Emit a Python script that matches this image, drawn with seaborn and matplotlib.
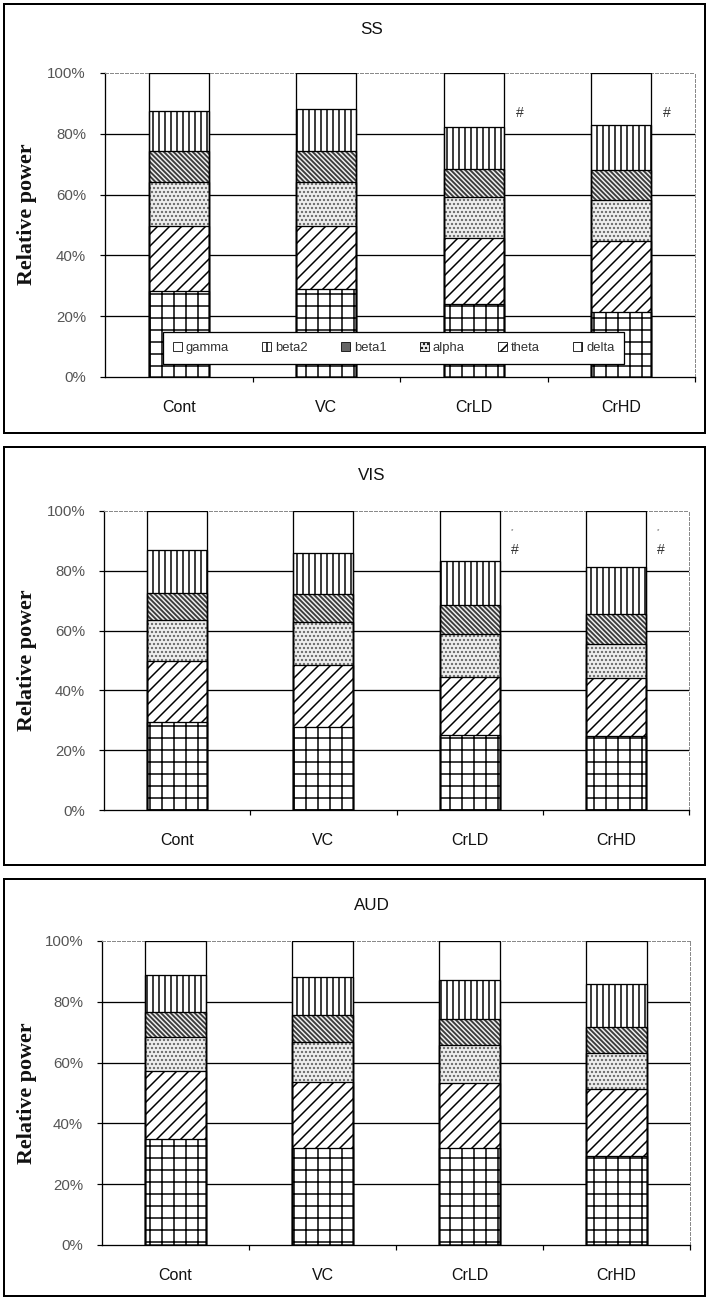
import matplotlib
matplotlib.use("Agg")
import matplotlib.pyplot as plt
from matplotlib.patches import Patch, Rectangle
import seaborn as sns

# Categories and frequency bands (top of stack first)
groups = ["Cont", "VC", "CrLD", "CrHD"]
bands = ["gamma", "beta2", "beta1", "alpha", "theta", "delta"]
y_ticks = [0, 20, 40, 60, 80, 100]
y_tick_labels = ["0%", "20%", "40%", "60%", "80%", "100%"]
regions = ["SS", "VIS", "AUD"]

# Relative power of each band (%), per group
ss_delta = [28.3, 28.8, 23.9, 21.5]
ss_theta = [21.4, 21.0, 21.9, 23.2]
ss_alpha = [14.3, 14.4, 13.3, 13.5]
ss_beta1 = [10.3, 10.1, 9.3, 9.9]
ss_beta2 = [13.3, 13.7, 13.9, 14.8]
ss_gamma = [12.4, 12.0, 17.7, 17.1]

vis_delta = [29.3, 27.8, 25.2, 24.7]
vis_theta = [20.5, 20.6, 19.4, 19.5]
vis_alpha = [13.6, 14.5, 14.4, 11.4]
vis_beta1 = [9.3, 9.2, 9.5, 9.9]
vis_beta2 = [14.4, 13.7, 14.8, 15.8]
vis_gamma = [12.9, 14.2, 16.7, 18.7]

aud_delta = [34.9, 31.8, 31.8, 29.3]
aud_theta = [22.3, 21.7, 21.5, 21.9]
aud_alpha = [11.2, 13.3, 12.5, 11.8]
aud_beta1 = [8.3, 8.9, 8.5, 8.8]
aud_beta2 = [12.2, 12.5, 12.9, 14.2]
aud_gamma = [11.1, 11.8, 12.8, 14.0]

# Significance marks: (region, group index, label)
marks = [("SS", 2, "#"), ("SS", 3, "#"), ("VIS", 2, "#"), ("VIS", 3, "#")]
faint_marks = [("VIS", 2, "*"), ("VIS", 3, "*")]

data = {
    "SS": dict(delta=ss_delta, theta=ss_theta, alpha=ss_alpha,
               beta1=ss_beta1, beta2=ss_beta2, gamma=ss_gamma),
    "VIS": dict(delta=vis_delta, theta=vis_theta, alpha=vis_alpha,
                beta1=vis_beta1, beta2=vis_beta2, gamma=vis_gamma),
    "AUD": dict(delta=aud_delta, theta=aud_theta, alpha=aud_alpha,
                beta1=aud_beta1, beta2=aud_beta2, gamma=aud_gamma),
}

# Fill pattern for each band: face colour, hatch, hatch colour
styles = {
    "gamma": ("white", "", "black"),
    "beta2": ("white", "||", "black"),
    "beta1": ("#3c3c3c", "\\\\\\\\\\", "#f0f0f0"),
    "alpha": ("#eeeeee", "...", "#606060"),
    "theta": ("white", "//", "black"),
    "delta": ("white", "+", "black"),
}

sns.set_theme(style="white")
SANS = ["Liberation Sans", "DejaVu Sans"]
plt.rcParams["font.family"] = SANS
plt.rcParams["hatch.linewidth"] = 1.5

W, H = 707, 1299
fig = plt.figure(figsize=(W / 72, H / 72), dpi=72)
fig.patch.set_facecolor("white")


def fx(x):
    return x / W


def fy(y):
    return 1 - y / H


# Layout in pixels: plot box (l, t, r, b), frame (l, t, r, b), title y, y-label y
layout = {
    "SS": ((105, 73, 695, 377), (4, 4, 705, 433), 30, 214),
    "VIS": ((104, 511, 689, 810), (4, 447, 705, 865), 476, 660),
    "AUD": ((102, 941, 690, 1245), (4, 879, 705, 1296), 905, 1093),
}

for region in regions:
    (l, t, r, b), (fl, ft, fr, fb), ty, ly = layout[region]
    ax = fig.add_axes([fx(l), fy(b), fx(r) - fx(l), fy(t) - fy(b)])

    # cumulative stacks, drawn from the tallest down so lower bands sit on top
    vals = data[region]
    order_bottom_up = ["delta", "theta", "alpha", "beta1", "beta2", "gamma"]
    cum = {}
    running = [0.0] * len(groups)
    for band in order_bottom_up:
        running = [a + v for a, v in zip(running, vals[band])]
        cum[band] = list(running)

    for band in bands:
        face, hatch, hcol = styles[band]
        sns.barplot(x=groups, y=cum[band], order=groups, ax=ax, color=face,
                    saturation=1, width=0.41, errorbar=None, hatch=hatch,
                    edgecolor=hcol, linewidth=0, zorder=2)
    for band in bands:
        sns.barplot(x=groups, y=cum[band], order=groups, ax=ax, fill=False,
                    width=0.41, errorbar=None, color="black",
                    edgecolor="black", linewidth=1.3, zorder=3)

    ax.set_xlim(-0.5, len(groups) - 0.5)
    ax.set_ylim(0, 100)
    ax.set_xlabel("")
    ax.set_ylabel("")

    for yv in y_ticks[1:-1]:
        ax.axhline(yv, color="black", lw=1.3, zorder=0.5)

    ax.set_yticks(y_ticks)
    ax.set_yticklabels(y_tick_labels)
    ax.set_xticks(range(len(groups)))
    ax.set_xticklabels(groups)
    ax.set_xticks([i + 0.5 for i in range(len(groups))], minor=True)
    ax.tick_params(axis="x", which="major", length=0, pad=23, labelsize=16,
                   labelcolor="#111111")
    ax.tick_params(axis="x", which="minor", length=5, width=1.2,
                   direction="out", color="black", bottom=True)
    ax.tick_params(axis="y", which="major", length=5, width=1.2,
                   direction="out", color="black", left=True, pad=14,
                   labelsize=15, labelcolor="#555555")

    for side in ("left", "bottom"):
        ax.spines[side].set_color("black")
        ax.spines[side].set_linewidth(1.3)
    for side in ("top", "right"):
        ax.spines[side].set_color("#8a8a8a")
        ax.spines[side].set_linewidth(1.0)
        ax.spines[side].set_linestyle((0, (3, 2)))
        ax.spines[side].set_visible(True)

    for reg, gi, lab in marks:
        if reg == region:
            ax.text(gi + 0.31, 87, lab, ha="center", va="center", fontsize=14,
                    color="#333333", family=SANS)
    for reg, gi, lab in faint_marks:
        if reg == region:
            ax.text(gi + 0.29, 93.5, lab, ha="center", va="center", fontsize=6,
                    color="#555555", family=SANS)

    fig.text(fx(372), fy(ty), region, ha="center", va="center", fontsize=17,
             color="#111111")
    fig.text(fx(27), fy(ly), "Relative power", rotation=90, ha="center",
             va="center", fontsize=22, fontweight="bold",
             family=["Liberation Serif", "DejaVu Serif"], color="#111111")

    fig.add_artist(Rectangle((fx(fl), fy(fb)), fx(fr) - fx(fl), fy(ft) - fy(fb),
                             transform=fig.transFigure, fill=False,
                             edgecolor="black", linewidth=2.0))

    if region == "SS":
        handles = []
        for band in bands:
            face, hatch, hcol = styles[band]
            handles.append(Patch(facecolor=face if band != "beta1" else "#666666",
                                 hatch=hatch if band != "beta1" else "",
                                 edgecolor="black", linewidth=0.8))
        leg = ax.legend(handles, bands, loc="lower left", ncol=6,
                        bbox_to_anchor=(0.098, 0.043, 0.782, 0.118),
                        mode="expand", borderaxespad=0, fontsize=13,
                        handlelength=0.7, handleheight=0.7, handletextpad=0.3,
                        columnspacing=0.8, borderpad=0.75, frameon=True,
                        fancybox=False, framealpha=1, edgecolor="black")
        leg.get_frame().set_linewidth(1.3)
        leg.set_zorder(5)
        for txt in leg.get_texts():
            txt.set_color("#333333")

fig.savefig("out.png", dpi=72, facecolor="white")
